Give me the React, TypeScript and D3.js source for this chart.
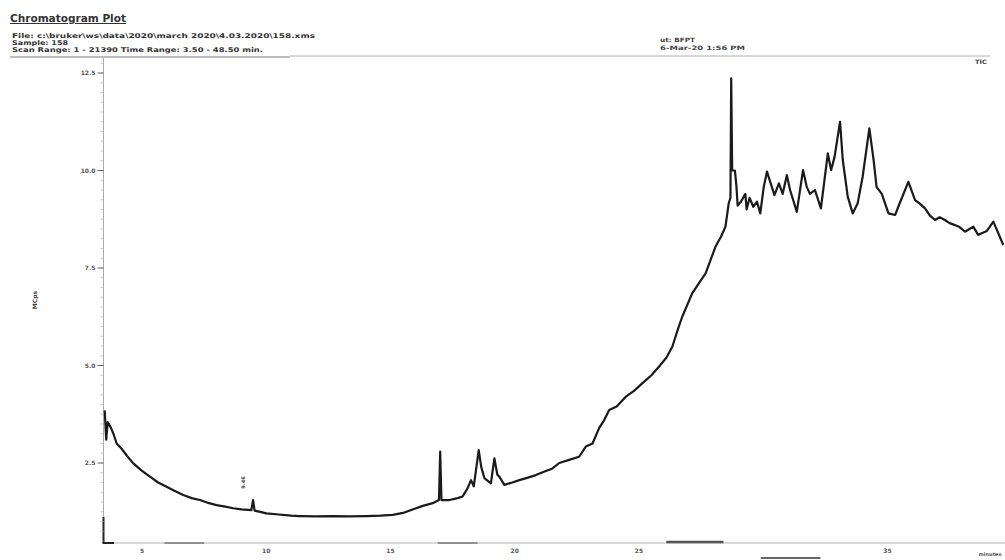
import React from "react";
import * as d3 from "d3";

const times = [3.5, 3.56, 3.62, 3.75, 3.85, 3.98, 4.2, 4.4, 4.65, 5.0, 5.32, 5.65, 5.99, 6.3, 6.66, 7.0, 7.33, 7.7, 8.0, 8.35, 8.67, 9.0, 9.4, 9.47, 9.53, 9.8, 10.0, 10.5, 11.0, 11.35, 12.0, 12.68, 13.3, 14.02, 14.6, 15.09, 15.5, 16.03, 16.3, 16.7, 16.95, 17.0, 17.05, 17.37, 17.7, 17.9, 18.1, 18.24, 18.35, 18.55, 18.65, 18.78, 19.04, 19.18, 19.3, 19.38, 19.58, 19.9, 20.18, 20.5, 20.85, 21.2, 21.52, 21.79, 22.19, 22.59, 22.86, 23.13, 23.4, 23.6, 23.8, 24.1, 24.47, 24.8, 25.13, 25.5, 25.8, 26.1, 26.34, 26.55, 26.74, 27.14, 27.4, 27.68, 28.08, 28.3, 28.48, 28.61, 28.68, 28.71, 28.75, 28.86, 28.92, 28.97, 29.1, 29.28, 29.33, 29.45, 29.6, 29.75, 29.88, 30.02, 30.15, 30.3, 30.45, 30.63, 30.78, 30.95, 31.08, 31.35, 31.6, 31.75, 31.88, 32.08, 32.32, 32.48, 32.6, 32.73, 32.87, 33.09, 33.2, 33.4, 33.6, 33.8, 34.0, 34.27, 34.44, 34.56, 34.77, 35.04, 35.31, 35.49, 35.84, 36.11, 36.3, 36.51, 36.7, 36.91, 37.1, 37.31, 37.5, 37.71, 37.9, 38.12, 38.3, 38.45, 38.65, 39.0, 39.26, 39.66];
const intensities = [3.85, 3.1, 3.55, 3.4, 3.25, 3.0, 2.85, 2.68, 2.49, 2.3, 2.15, 2.0, 1.89, 1.79, 1.68, 1.6, 1.55, 1.47, 1.42, 1.38, 1.34, 1.31, 1.29, 1.55, 1.28, 1.24, 1.21, 1.18, 1.15, 1.14, 1.13, 1.14, 1.13, 1.14, 1.15, 1.17, 1.22, 1.34, 1.4, 1.47, 1.55, 2.79, 1.55, 1.55, 1.6, 1.64, 1.85, 2.06, 1.9, 2.83, 2.4, 2.11, 1.98, 2.62, 2.2, 2.15, 1.94, 2.0, 2.06, 2.12, 2.19, 2.28, 2.36, 2.5, 2.58, 2.66, 2.92, 3.0, 3.4, 3.6, 3.86, 3.95, 4.2, 4.35, 4.54, 4.75, 4.97, 5.2, 5.48, 5.9, 6.25, 6.85, 7.1, 7.36, 8.05, 8.3, 8.56, 9.16, 9.3, 12.36, 10.0, 10.0, 9.6, 9.1, 9.2, 9.4, 9.0, 9.3, 9.07, 9.2, 8.9, 9.58, 9.97, 9.67, 9.37, 9.67, 9.4, 9.88, 9.5, 8.94, 10.01, 9.58, 9.4, 9.5, 9.03, 9.84, 10.44, 10.01, 10.35, 11.25, 10.27, 9.33, 8.9, 9.16, 9.84, 11.08, 10.27, 9.58, 9.4, 8.9, 8.86, 9.16, 9.71, 9.24, 9.15, 9.03, 8.85, 8.73, 8.8, 8.73, 8.65, 8.6, 8.55, 8.43, 8.5, 8.56, 8.35, 8.45, 8.69, 8.09];

const yTicks = [2.5, 5.0, 7.5, 10.0, 12.5];
const xTicks = [5, 10, 15, 20, 25, 35];

const titleText = "Chromatogram Plot";
const headerLines = [
  "File: c:\\bruker\\ws\\data\\2020\\march 2020\\4.03.2020\\158.xms",
  "Sample: 158",
  "Scan Range: 1 - 21390 Time Range: 3.50 - 48.50 min.",
];
const headerWidths = [303, 56, 251];
const rightLines = ["ut: BFPT", "6-Mar-20 1:56 PM"];
const rightWidths = [35, 85];

export default function App() {
  const W = 1005, H = 560;
  const x = d3.scaleLinear().domain([5, 35]).range([142, 887.5]);
  const y = d3.scaleLinear().domain([2.5, 12.5]).range([463, 73]);
  const axisX = 103.5, axisBottom = 543;
  const pts: [number, number][] = times.map((t, i) => [t, intensities[i]]);
  const line = d3.line<[number, number]>().x(d => x(d[0])).y(d => y(d[1]));
  const minorTicks = d3.range(0.25, 12.76, 0.25).filter(v => y(v) > 60 && y(v) < axisBottom);
  const font = "'DejaVu Sans', 'Liberation Sans', Arial, sans-serif";
  return (
    <div style={{ position: "fixed", left: 0, top: 0 }}>
      <svg width={W} height={H} style={{ display: "block", background: "#fff" }} fontFamily={font}>
        <text x={10} y={22} fontSize={10} fontWeight="bold" fill="#333" textDecoration="underline" textLength={116} lengthAdjust="spacingAndGlyphs">{titleText}</text>
        {headerLines.map((s, i) => (
          <text key={i} x={12} y={38 + i * 7} fontSize={6.5} fontWeight="bold" fill="#333" textLength={headerWidths[i]} lengthAdjust="spacingAndGlyphs">{s}</text>
        ))}
        <line x1={10} x2={290} y1={57} y2={57} stroke="#555" strokeWidth={0.8} />
        <line x1={290} x2={990} y1={56} y2={56} stroke="#999" strokeWidth={0.8} />
        {rightLines.map((s, i) => (
          <text key={i} x={660} y={42 + i * 8} fontSize={6} fontWeight="bold" fill="#444" textLength={rightWidths[i]} lengthAdjust="spacingAndGlyphs">{s}</text>
        ))}
        <text x={975} y={64} fontSize={6} fontWeight="bold" fill="#444" textLength={12} lengthAdjust="spacingAndGlyphs">TIC</text>
        <text x={37} y={300} fontSize={6} fontWeight="bold" fill="#444" textAnchor="middle" transform="rotate(-90 37 300)">MCps</text>

        {/* y axis */}
        <line x1={axisX} x2={axisX} y1={58} y2={axisBottom} stroke="#aaa" strokeWidth={1} />
        <line x1={axisX} x2={axisX} y1={517} y2={axisBottom} stroke="#222" strokeWidth={2} />
        {minorTicks.map((v, i) => (
          <line key={i} x1={axisX - 3} x2={axisX} y1={y(v)} y2={y(v)} stroke="#bbb" strokeWidth={0.8} />
        ))}
        {yTicks.map(v => (
          <g key={v}>
            <line x1={axisX - 6} x2={axisX} y1={y(v)} y2={y(v)} stroke="#666" strokeWidth={1} />
            <text x={axisX - 8} y={y(v) + 2} fontSize={6} fontWeight="bold" fill="#555" textAnchor="end">{v.toFixed(1)}</text>
          </g>
        ))}

        {/* x axis */}
        <line x1={axisX} x2={W} y1={axisBottom} y2={axisBottom} stroke="#ccc" strokeWidth={1.5} />
        <line x1={axisX - 1} x2={114} y1={axisBottom} y2={axisBottom} stroke="#222" strokeWidth={2} />
        <line x1={x(5.9)} x2={x(7.5)} y1={axisBottom} y2={axisBottom} stroke="#777" strokeWidth={1.5} />
        <line x1={x(16.9)} x2={x(18.5)} y1={axisBottom} y2={axisBottom} stroke="#777" strokeWidth={1.5} />
        <line x1={x(26.1)} x2={x(28.4)} y1={axisBottom - 1} y2={axisBottom - 1} stroke="#555" strokeWidth={2.5} />
        <line x1={x(29.9)} x2={x(32.3)} y1={558} y2={558} stroke="#666" strokeWidth={2} />
        {xTicks.map(v => (
          <text key={v} x={x(v)} y={553} fontSize={6} fontWeight="bold" fill="#555" textAnchor="middle">{v}</text>
        ))}
        <text x={990} y={556} fontSize={5} fontWeight="bold" fill="#555" textAnchor="middle">minutes</text>

        {/* peak label */}
        <text x={x(9.47) - 8} y={y(2.0)} fontSize={5} fontWeight="bold" fill="#444" textAnchor="middle" transform={`rotate(-90 ${x(9.47) - 8} ${y(2.0)})`}>9.46</text>

        <path d={line(pts) || ""} fill="none" stroke="#1a1a1a" strokeWidth={2.2} strokeLinejoin="round" />
      </svg>
    </div>
  );
}
